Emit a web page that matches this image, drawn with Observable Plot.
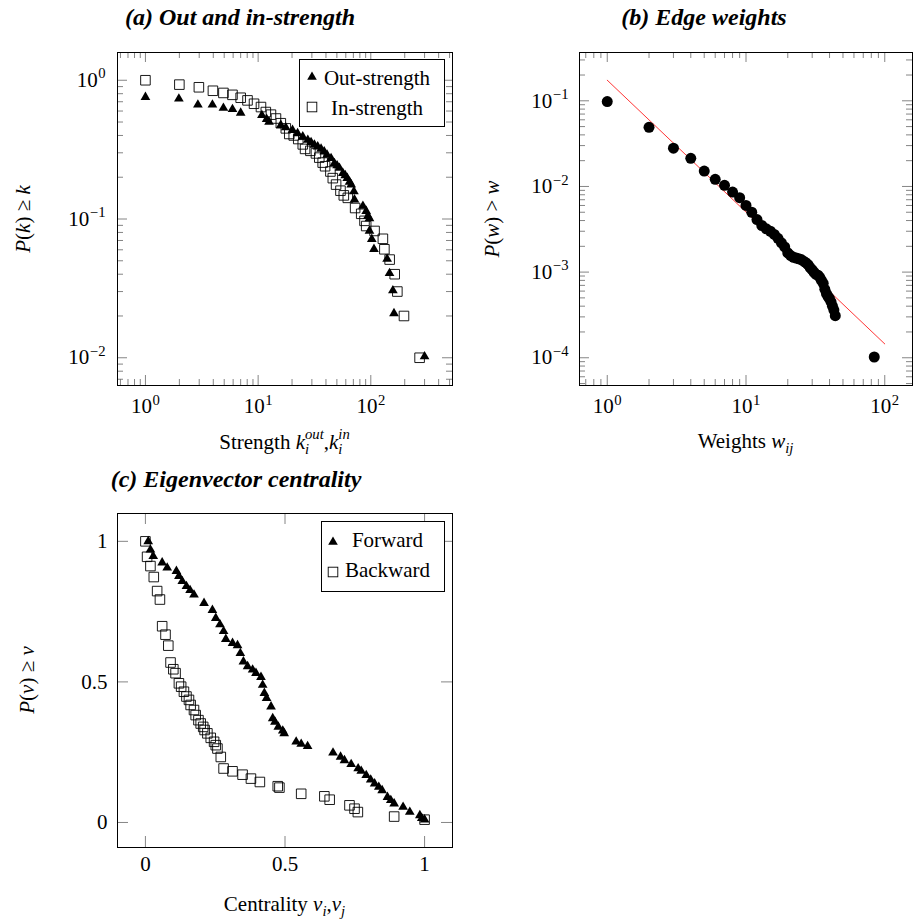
<!DOCTYPE html>
<html><head><meta charset="utf-8">
<script src="https://cdn.jsdelivr.net/npm/d3@7"></script>
<script src="https://cdn.jsdelivr.net/npm/@observablehq/plot@0.6"></script>
<style>
body{margin:0;background:#fff;}
#root{position:relative;width:915px;height:922px;overflow:hidden;font-family:"Liberation Serif","DejaVu Serif","Noto Serif","Tinos","Nimbus Roman","FreeSerif","Times",serif;color:#000;}
.abs{position:absolute;white-space:nowrap;}
.ttl{font-weight:bold;font-style:italic;font-size:24px;line-height:44px;}
.lbl{font-size:21px;line-height:44px;}
.sc{display:inline-block;font-size:0.7em;line-height:1;vertical-align:baseline;position:relative;top:5px;text-align:left;font-style:italic;}
.sc span{display:block;}
.sb{font-size:0.7em;position:relative;top:5px;font-style:italic;}
</style></head><body><div id="root"></div><script>
// ---------- (a) Out and in-strength ----------
const outStrengthK = [1,1.98,2.92,3.93,4.92,5.92,7.0,10.8,11.9,12.5,15.9,17.6,20.2,22.4,24.9,27.6,29.5,31.6,33.8,36.2,38.6,40.9,44.4,47.5,50.2,52.7,56.5,59.3,61.8,64.8,67.0,70.8,71.6,85.1,91,94.3,97.3,97.3,102,106.7,139.6,146.6,157,160.6,300];
const outStrengthP = [0.756,0.735,0.666,0.666,0.631,0.618,0.581,0.559,0.524,0.501,0.475,0.456,0.437,0.414,0.392,0.371,0.357,0.342,0.332,0.32,0.306,0.29,0.274,0.252,0.243,0.233,0.214,0.206,0.197,0.185,0.177,0.158,0.138,0.124,0.114,0.105,0.101,0.082,0.0716,0.0606,0.0515,0.0406,0.0305,0.0209,0.0102];
const inStrengthK = [1,2.0,2.98,3.97,4.92,5.92,7.0,8.05,9.2,10.6,11.7,13.0,14.4,15.9,17.6,18.9,20.7,22.7,24.9,26.1,29.1,32.6,34.9,37.4,39.3,43.8,46,49.2,53.8,57.6,62.5,72.6,82.2,87.9,91,108,128,132,147,163,172,197,271];
const inStrengthP = [1.0,0.93,0.89,0.84,0.81,0.785,0.748,0.716,0.677,0.641,0.59,0.565,0.53,0.49,0.45,0.41,0.40,0.377,0.345,0.32,0.31,0.297,0.277,0.255,0.24,0.22,0.197,0.177,0.16,0.148,0.142,0.12,0.109,0.097,0.089,0.082,0.072,0.0605,0.051,0.04,0.03,0.02,0.01];
const strengthTicks = [1,10,100];
const strengthTickLabels = ["10^0","10^1","10^2"];
const strengthMinor = [0.6,0.7,0.8,0.9,2,3,4,5,6,7,8,9,20,30,40,50,60,70,80,90,200,300,400,500];
const probATicks = [0.01,0.1,1];
const probATickLabels = ["10^-2","10^-1","10^0"];
const probAMinor = [0.007,0.008,0.009,0.02,0.03,0.04,0.05,0.06,0.07,0.08,0.09,0.2,0.3,0.4,0.5,0.6,0.7,0.8,0.9];

// ---------- (b) Edge weights ----------
const weightW = [1,2,3,4,5,6,7,8,9,10,11,12,13,14,15,16,17,18,19,20,21,22,23,24,25,26,27,28,29,30,31,32,33,34,35,36,37,38,39,40,41,42,43,44,84];
const weightP = [0.098,0.049,0.028,0.0213,0.0151,0.0121,0.0103,0.0086,0.0074,0.006,0.005,0.0041,0.0035,0.0032,0.003,0.00275,0.00248,0.0022,0.00197,0.00168,0.00156,0.00149,0.00146,0.00143,0.0014,0.00134,0.00129,0.00122,0.00113,0.00106,0.00099,0.00094,0.00092,0.00087,0.0008,0.00074,0.00063,0.00056,0.00052,0.00049,0.00045,0.0004,0.00036,0.00031,0.000102];
const fitW = [1,100];
const fitP = [0.174,0.000145];
const weightTicks = [1,10,100];
const weightTickLabels = ["10^0","10^1","10^2"];
const weightMinor = [0.7,0.8,0.9,2,3,4,5,6,7,8,9,20,30,40,50,60,70,80,90];
const probBTicks = [0.0001,0.001,0.01,0.1];
const probBTickLabels = ["10^-4","10^-3","10^-2","10^-1"];
const probBMinor = [0.00005,0.00006,0.00007,0.00008,0.00009,0.0002,0.0003,0.0004,0.0005,0.0006,0.0007,0.0008,0.0009,0.002,0.003,0.004,0.005,0.006,0.007,0.008,0.009,0.02,0.03,0.04,0.05,0.06,0.07,0.08,0.09,0.2,0.3];

// ---------- (c) Eigenvector centrality ----------
const forwardV = [0.01,0.018,0.028,0.06,0.078,0.111,0.12,0.132,0.147,0.16,0.174,0.21,0.24,0.252,0.267,0.28,0.288,0.312,0.33,0.34,0.351,0.366,0.384,0.396,0.414,0.42,0.426,0.434,0.45,0.456,0.464,0.476,0.492,0.497,0.54,0.558,0.581,0.672,0.699,0.713,0.737,0.762,0.773,0.791,0.807,0.821,0.836,0.848,0.867,0.879,0.891,0.923,0.947,0.983,0.99,1.0];
const forwardP = [1.0,0.97,0.947,0.924,0.906,0.894,0.876,0.858,0.84,0.826,0.81,0.78,0.755,0.727,0.704,0.68,0.652,0.638,0.63,0.602,0.572,0.555,0.543,0.531,0.517,0.489,0.46,0.442,0.412,0.37,0.358,0.34,0.326,0.317,0.287,0.279,0.271,0.248,0.233,0.221,0.207,0.192,0.183,0.168,0.152,0.138,0.126,0.114,0.09,0.079,0.067,0.055,0.037,0.025,0.015,0.01];
const backwardV = [0.0,0.006,0.018,0.03,0.042,0.052,0.06,0.072,0.082,0.09,0.1,0.108,0.12,0.128,0.138,0.147,0.156,0.162,0.174,0.18,0.19,0.198,0.207,0.212,0.222,0.234,0.246,0.252,0.258,0.27,0.28,0.312,0.348,0.378,0.41,0.474,0.48,0.558,0.641,0.66,0.731,0.749,0.761,0.891,1.0];
const backwardP = [1.0,0.945,0.912,0.873,0.823,0.793,0.698,0.668,0.629,0.569,0.545,0.531,0.495,0.483,0.465,0.448,0.436,0.418,0.4,0.382,0.364,0.352,0.34,0.329,0.317,0.301,0.287,0.275,0.263,0.233,0.192,0.182,0.17,0.156,0.144,0.129,0.124,0.102,0.093,0.081,0.061,0.049,0.037,0.021,0.01];
const centralityTicks = [0,0.5,1];
const centralityTickLabels = ["0","0.5","1"];

// ---------- helpers ----------
const FONT = "'Liberation Serif','DejaVu Serif','Noto Serif','Tinos','Nimbus Roman','FreeSerif','Times',serif";
const NS = "http://www.w3.org/2000/svg";
const TICK = "#777";
const root = document.getElementById("root");
const zip = (a, b) => a.map((v, i) => ({x: v, y: b[i]}));
const lookup = (vals, labels) => { const m = new Map(vals.map((v, i) => [v, labels[i]])); return d => m.get(d); };

function supify(svg) {
  svg.querySelectorAll("text").forEach(t => {
    const m = /^10\^(.+)$/.exec(t.textContent);
    if (!m) return;
    t.textContent = "";
    const a = document.createElementNS(NS, "tspan"); a.textContent = "10";
    const b = document.createElementNS(NS, "tspan");
    b.setAttribute("font-size", "14.7"); b.setAttribute("dy", "-8.5"); b.setAttribute("dx", "0.5");
    b.textContent = m[1].replace("-", "\u2212");
    t.append(a, b);
  });
}

function frameTicks(xs, ys, len, fw, fh) {
  const o = {stroke: TICK, strokeWidth: 0.9};
  return [
    Plot.tickX(xs, {x: d => d, insetTop: fh - len, ...o}),
    Plot.tickX(xs, {x: d => d, insetBottom: fh - len, ...o}),
    Plot.tickY(ys, {y: d => d, insetRight: fw - len, ...o}),
    Plot.tickY(ys, {y: d => d, insetLeft: fw - len, ...o})
  ];
}

function panel(left, top, cfg) {
  const div = document.createElement("div");
  div.className = "abs";
  Object.assign(div.style, {left: left + "px", top: top + "px", width: cfg.width + "px", height: cfg.height + "px"});
  const svg = Plot.plot({
    width: cfg.width, height: cfg.height,
    marginLeft: cfg.mL, marginRight: cfg.mR, marginTop: cfg.mT, marginBottom: cfg.mB,
    x: cfg.x, y: cfg.y,
    style: {fontFamily: FONT, fontSize: "21px", background: "transparent", maxWidth: "none", overflow: "visible", color: "#000"},
    marks: cfg.marks
  });
  div.appendChild(svg);
  root.appendChild(div);
  supify(svg);
}

function addDiv(html, cls, css) {
  const d = document.createElement("div");
  d.className = "abs " + cls; d.innerHTML = html;
  Object.assign(d.style, css); root.appendChild(d); return d;
}
function textAt(html, cls, cx, baseline, fs, L, anchor = "middle") {
  const off = (L - 1.107 * fs) / 2 + 0.891 * fs;
  return addDiv(html, cls, {left: cx + "px", top: (baseline - off) + "px", transform: anchor === "middle" ? "translateX(-50%)" : "none"});
}
function yLabelAt(html, baselineX, cy) {
  const fs = 21, L = 44, off = (L - 1.107 * fs) / 2 + 0.891 * fs;
  return addDiv(html, "lbl", {left: (baselineX - (off - L / 2)) + "px", top: cy + "px", transform: "translate(-50%,-50%) rotate(-90deg)"});
}
function marker(kind, cx, cy) {
  const s = 9.6, c = 7;
  const inner = kind === "triangle"
    ? `<polygon points="${c - s / 2},${c + s * 0.2887} ${c + s / 2},${c + s * 0.2887} ${c},${c - s * 0.5774}" fill="#000"/>`
    : `<rect x="${c - s / 2}" y="${c - s / 2}" width="${s}" height="${s}" fill="none" stroke="#000" stroke-width="0.9"/>`;
  addDiv(`<svg width="14" height="14" style="display:block">${inner}</svg>`, "", {left: (cx - 7) + "px", top: (cy - 7) + "px"});
}
function legendBox(l, t, w, h) {
  addDiv("", "", {left: l + "px", top: t + "px", width: (w - 2) + "px", height: (h - 2) + "px", border: "1px solid #000", background: "#fff"});
}

// ---------- panel (a) ----------
{
  const W = 460, H = 430, mL = 117, mR = 8, mT = 52, mB = 45;
  const fw = W - mL - mR, fh = H - mT - mB;
  panel(0, 0, {
    width: W, height: H, mL, mR, mT, mB,
    x: {type: "log", domain: [10 ** -0.248, 10 ** 2.725]},
    y: {type: "log", domain: [10 ** -2.2, 10 ** 0.2]},
    marks: [
      ...frameTicks(strengthMinor, probAMinor, 6, fw, fh),
      ...frameTicks(strengthTicks, probATicks, 10, fw, fh),
      Plot.dot(zip(outStrengthK, outStrengthP), {x: "x", y: "y", symbol: "triangle", r: 3.6, fill: "#000"}),
      Plot.dot(zip(inStrengthK, inStrengthP), {x: "x", y: "y", symbol: "square", r: 5.4, fill: "none", stroke: "#000", strokeWidth: 0.9}),
      Plot.axisX({anchor: "bottom", ticks: strengthTicks, tickFormat: lookup(strengthTicks, strengthTickLabels), tickSize: 0, tickPadding: 13, fontSize: 21, label: null}),
      Plot.axisY({anchor: "left", ticks: probATicks, tickFormat: lookup(probATicks, probATickLabels), tickSize: 0, tickPadding: 12, fontSize: 21, label: null}),
      Plot.frame({stroke: "#000", strokeWidth: 1})
    ]
  });
}

// ---------- panel (b) ----------
{
  const W = 455, H = 430, mL = 119, mR = 3, mT = 52, mB = 45;
  const fw = W - mL - mR, fh = H - mT - mB;
  panel(460, 0, {
    width: W, height: H, mL, mR, mT, mB,
    x: {type: "log", domain: [10 ** -0.2, 10 ** 2.2]},
    y: {type: "log", domain: [10 ** -4.324, 10 ** -0.436]},
    marks: [
      ...frameTicks(weightMinor, probBMinor, 6, fw, fh),
      ...frameTicks(weightTicks, probBTicks, 10, fw, fh),
      Plot.line(zip(fitW, fitP), {x: "x", y: "y", stroke: "#ff0000", strokeWidth: 0.8}),
      Plot.dot(zip(weightW, weightP), {x: "x", y: "y", r: 5.5, fill: "#000"}),
      Plot.axisX({anchor: "bottom", ticks: weightTicks, tickFormat: lookup(weightTicks, weightTickLabels), tickSize: 0, tickPadding: 13, fontSize: 21, label: null}),
      Plot.axisY({anchor: "left", ticks: probBTicks, tickFormat: lookup(probBTicks, probBTickLabels), tickSize: 0, tickPadding: 11, fontSize: 21, label: null}),
      Plot.frame({stroke: "#000", strokeWidth: 1})
    ]
  });
}

// ---------- panel (c) ----------
{
  const W = 460, H = 420, mL = 117, mR = 8, mT = 53, mB = 33;
  const fw = W - mL - mR, fh = H - mT - mB;
  panel(0, 460, {
    width: W, height: H, mL, mR, mT, mB,
    x: {domain: [-0.1, 1.1]},
    y: {domain: [-0.089, 1.099]},
    marks: [
      ...frameTicks(centralityTicks, centralityTicks, 11, fw, fh),
      Plot.dot(zip(forwardV, forwardP), {x: "x", y: "y", symbol: "triangle", r: 3.6, fill: "#000"}),
      Plot.dot(zip(backwardV, backwardP), {x: "x", y: "y", symbol: "square", r: 5.4, fill: "none", stroke: "#000", strokeWidth: 0.9}),
      Plot.axisX({anchor: "bottom", ticks: centralityTicks, tickFormat: lookup(centralityTicks, centralityTickLabels), tickSize: 0, tickPadding: 9, fontSize: 21, label: null}),
      Plot.axisY({anchor: "left", ticks: centralityTicks, tickFormat: lookup(centralityTicks, centralityTickLabels), tickSize: 0, tickPadding: 10, fontSize: 21, label: null}),
      Plot.frame({stroke: "#000", strokeWidth: 1})
    ]
  });
}

// ---------- titles ----------
textAt("(a) Out and in-strength", "ttl", 240, 25, 24, 44);
textAt("(b) Edge weights", "ttl", 704, 25, 24, 44);
textAt("(c) Eigenvector centrality", "ttl", 236, 487, 24, 44);

// ---------- axis labels ----------
textAt('Strength <i>k</i><span class="sc"><span>out</span><span>i</span></span>,<i>k</i><span class="sc"><span>in</span><span>i</span></span>', "lbl", 284.5, 449, 21, 44);
textAt('Weights <i>w</i><span class="sb">ij</span>', "lbl", 745.5, 448, 21, 44);
textAt('Centrality <i>v</i><span class="sb">i</span>,<i>v</i><span class="sb">j</span>', "lbl", 284.5, 911, 21, 44);
yLabelAt('<i>P</i>(<i>k</i>) \u2265 <i>k</i>', 30, 219);
yLabelAt('<i>P</i>(<i>w</i>) &gt; <i>w</i>', 499, 219);
yLabelAt('<i>P</i>(<i>v</i>) \u2265 <i>v</i>', 34, 680);

// ---------- legends ----------
legendBox(299, 59, 146, 68);
marker("triangle", 312, 77);
textAt("Out-strength", "lbl", 377, 85.5, 21, 44);
marker("square", 312, 107);
textAt("In-strength", "lbl", 377, 115.5, 21, 44);

legendBox(321, 521, 124, 71);
marker("triangle", 333, 542);
textAt("Forward", "lbl", 387.5, 547, 21, 44);
marker("square", 333, 572);
textAt("Backward", "lbl", 387.5, 577, 21, 44);
</script></body></html>
